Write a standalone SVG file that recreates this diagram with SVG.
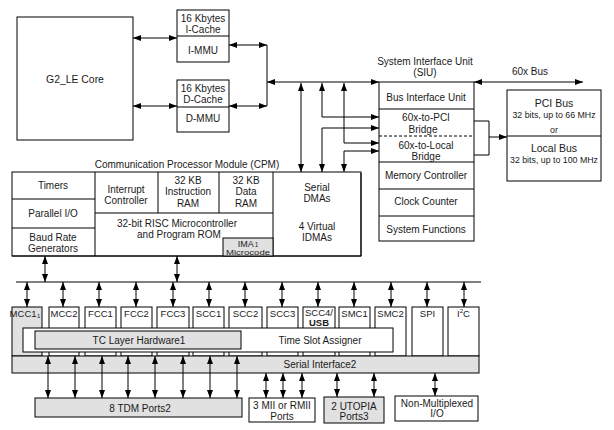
<svg xmlns="http://www.w3.org/2000/svg" width="614" height="430" viewBox="0 0 614 430">
<style>
.b{fill:#fff;stroke:#000;stroke-width:1}
.g{fill:#e1e1e1;stroke:#000;stroke-width:1}
.l{stroke:#000;stroke-width:1;fill:none}
.t{font-family:"Liberation Sans",Arial,sans-serif;font-size:10px;fill:#1a1a1a;text-anchor:middle}
.ch{font-size:9.5px}
.s{font-size:8.8px}
.big{font-size:10.5px}
#conn line,#conn polyline{stroke:#000;stroke-width:1;fill:none}
.a{marker-start:url(#ah);marker-end:url(#ah)}
.e{marker-end:url(#ah)}
</style>
<defs>
<marker id="ah" markerUnits="userSpaceOnUse" markerWidth="8" markerHeight="6" refX="8" refY="3" orient="auto-start-reverse"><path d="M0,0 L8,3 L0,6 z" fill="#000"/></marker>
</defs>
<rect width="614" height="430" fill="#fff"/>

<g id="core">
<rect class="b" x="17" y="17" width="116" height="123"/>
<text class="t" x="75" y="83" style="font-size:10.4px">G2_LE Core</text>
</g>

<g id="icache">
<rect class="b" x="177" y="10" width="52" height="52"/>
<line class="l" x1="177" y1="36" x2="229" y2="36"/>
<text class="t" x="203" y="22">16 Kbytes</text>
<text class="t" x="203" y="33">I-Cache</text>
<text class="t" x="203" y="53.5">I-MMU</text>
</g>

<g id="dcache">
<rect class="b" x="177" y="80" width="52" height="52"/>
<line class="l" x1="177" y1="107" x2="229" y2="107"/>
<text class="t" x="203" y="91.5">16 Kbytes</text>
<text class="t" x="203" y="102.5">D-Cache</text>
<text class="t" x="203" y="122">D-MMU</text>
</g>

<g id="siu">
<text class="t" x="425" y="65">System Interface Unit</text>
<text class="t" x="425" y="75.5">(SIU)</text>
<rect class="b" x="379" y="82" width="95" height="159"/>
<line class="l" x1="379" y1="109" x2="474" y2="109"/>
<line class="l" x1="379" y1="136" x2="474" y2="136" stroke-dasharray="3,2"/>
<line class="l" x1="379" y1="162" x2="474" y2="162" stroke-width="2"/>
<line class="l" x1="379" y1="189" x2="474" y2="189"/>
<line class="l" x1="379" y1="216" x2="474" y2="216"/>
<text class="t" x="426" y="100.5">Bus Interface Unit</text>
<text class="t" x="426" y="121">60x-to-PCI</text>
<text class="t" x="423" y="133">Bridge</text>
<text class="t" x="426" y="148.5">60x-to-Local</text>
<text class="t" x="426" y="159.5">Bridge</text>
<text class="t" x="426" y="179">Memory Controller</text>
<text class="t" x="426" y="205">Clock Counter</text>
<text class="t" x="426" y="232.5">System Functions</text>
</g>

<g id="bus60x">
<text class="t" x="530" y="74.5">60x Bus</text>
</g>

<g id="pcibus">
<rect class="b" x="507" y="90" width="94" height="91"/>
<line class="l" x1="507" y1="136" x2="601" y2="136"/>
<text class="t big" x="554" y="107">PCI Bus</text>
<text class="t s" x="554" y="117.5">32 bits, up to 66 MHz</text>
<text class="t s" x="554" y="133">or</text>
<text class="t big" x="554" y="152">Local Bus</text>
<text class="t s" x="554" y="162.5">32 bits, up to 100 MHz</text>
</g>

<g id="cpm">
<text class="t" x="187" y="167.5">Communication Processor Module (CPM)</text>
<rect class="b" x="12" y="172" width="349" height="84"/>
<polyline class="l" points="361,173 361,256 12,256" stroke-width="2.5"/>
<line class="l" x1="95" y1="172" x2="95" y2="256"/>
<line class="l" x1="12" y1="199" x2="95" y2="199"/>
<line class="l" x1="12" y1="228" x2="95" y2="228"/>
<line class="l" x1="95" y1="213" x2="273" y2="213"/>
<line class="l" x1="158" y1="172" x2="158" y2="213"/>
<line class="l" x1="219" y1="172" x2="219" y2="213"/>
<line class="l" x1="273" y1="172" x2="273" y2="256"/>
<text class="t" x="53" y="188.5">Timers</text>
<text class="t" x="53" y="216.5">Parallel I/O</text>
<text class="t" x="53" y="240.5">Baud Rate</text>
<text class="t" x="53" y="251.5">Generators</text>
<text class="t" x="126" y="192.5">Interrupt</text>
<text class="t" x="126" y="203.5">Controller</text>
<text class="t" x="188" y="183.5">32 KB</text>
<text class="t" x="188" y="195">Instruction</text>
<text class="t" x="188" y="206.5">RAM</text>
<text class="t" x="246" y="183.5">32 KB</text>
<text class="t" x="246" y="195">Data</text>
<text class="t" x="246" y="206.5">RAM</text>
<text class="t" x="177" y="226.5">32-bit RISC Microcontroller</text>
<text class="t" x="179" y="238">and Program ROM</text>
<rect class="g" x="223" y="238" width="50" height="18"/>
<text class="t" x="248" y="247" style="font-size:9px">IMA<tspan font-size="6.5" dx="1">1</tspan></text>
<text class="t" x="248" y="254.5" style="font-size:8px" textLength="44" lengthAdjust="spacingAndGlyphs">Microcode</text>
<text class="t" x="317" y="190.5">Serial</text>
<text class="t" x="317" y="201.5">DMAs</text>
<text class="t" x="317" y="229.5">4 Virtual</text>
<text class="t" x="317" y="240.5">IDMAs</text>
</g>

<g id="mcc1"><rect class="g" x="12" y="307" width="30" height="49"/><text class="t ch" x="25" y="316.5">MCC1<tspan font-size="6" dx="0.5" dy="1">1</tspan></text></g>
<g id="mcc2"><rect class="b" x="49" y="307" width="30" height="49"/><text class="t ch" x="64" y="316.5">MCC2</text></g>
<g id="fcc1"><rect class="b" x="85" y="307" width="31" height="49"/><text class="t ch" x="100.5" y="316.5">FCC1</text></g>
<g id="fcc2"><rect class="b" x="121" y="307" width="31" height="49"/><text class="t ch" x="136.5" y="316.5">FCC2</text></g>
<g id="fcc3"><rect class="b" x="157" y="307" width="32" height="49"/><text class="t ch" x="173" y="316.5">FCC3</text></g>
<g id="scc1"><rect class="b" x="193" y="307" width="31" height="49"/><text class="t ch" x="208.5" y="316.5">SCC1</text></g>
<g id="scc2"><rect class="b" x="229" y="307" width="33" height="49"/><text class="t ch" x="245.5" y="316.5">SCC2</text></g>
<g id="scc3"><rect class="b" x="267" y="307" width="31" height="49"/><text class="t ch" x="282.5" y="316.5">SCC3</text></g>
<g id="scc4"><rect class="b" x="303" y="307" width="32" height="49"/><text class="t ch" x="319" y="316">SCC4/</text><text class="t ch" x="319" y="325.5" font-weight="bold">USB</text></g>
<g id="smc1"><rect class="b" x="339" y="307" width="31" height="49"/><text class="t ch" x="354.5" y="316.5">SMC1</text></g>
<g id="smc2"><rect class="b" x="375" y="307" width="31" height="49"/><text class="t ch" x="390.5" y="316.5">SMC2</text></g>
<g id="spi"><rect class="b" x="412" y="307" width="31" height="49"/><text class="t ch" x="427.5" y="316.5">SPI</text></g>
<g id="i2c"><rect class="b" x="448" y="307" width="31" height="49"/><text class="t ch" x="463.5" y="316.5">I<tspan font-size="6" dy="-3.5">2</tspan><tspan dy="3.5">C</tspan></text></g>

<g id="si">
<rect class="g" x="12" y="356" width="467" height="17"/>
<text class="t" x="320" y="368">Serial Interface2</text>
</g>
<g id="tsa">
<rect class="b" x="23" y="328" width="370" height="24"/>
<text class="t" x="320" y="343.5">Time Slot Assigner</text>
</g>
<g id="tc">
<rect class="g" x="35" y="331" width="206" height="18"/>
<text class="t" x="139" y="343.5">TC Layer Hardware1</text>
</g>

<g id="tdm">
<rect class="g" x="35" y="398" width="207" height="19"/>
<text class="t" x="140" y="411.5">8 TDM Ports2</text>
</g>
<g id="mii">
<rect class="b" x="249" y="398" width="66" height="24"/>
<text class="t" x="282" y="408.5">3 MII or RMII</text>
<text class="t" x="282" y="419.5">Ports</text>
</g>
<g id="utopia">
<rect class="g" x="324" y="397" width="60" height="26"/>
<text class="t" x="354" y="409.5">2 UTOPIA</text>
<text class="t" x="354" y="420">Ports3</text>
</g>
<g id="nonmux">
<rect class="b" x="395" y="396" width="83" height="25"/>
<text class="t" x="437" y="406.5">Non-Multiplexed</text>
<text class="t" x="437" y="416.5">I/O</text>
</g>

<g id="conn">
<line class="a" x1="133" y1="38" x2="177" y2="38"/>
<line class="a" x1="133" y1="106" x2="177" y2="106"/>
<line class="a" x1="229" y1="45" x2="267" y2="45"/>
<line class="a" x1="229" y1="106" x2="267" y2="106"/>
<line x1="267" y1="45" x2="267" y2="106"/>
<line class="a" x1="267" y1="82" x2="379" y2="82"/>
<line class="a" x1="301" y1="83" x2="301" y2="172"/>
<polyline class="a" points="322,83 322,117 379,117"/>
<polyline class="a" points="379,128 322,128 322,172"/>
<polyline class="a" points="344,83 344,143 379,143"/>
<polyline class="a" points="379,151 344,151 344,172"/>
<line class="a" x1="474" y1="82" x2="583" y2="82"/>
<polyline points="474,121 489,121 489,155 474,155"/>
<line class="e" x1="489" y1="137" x2="507" y2="137"/>
<line class="a" x1="45" y1="256" x2="45" y2="282"/>
<line class="a" x1="177" y1="256" x2="177" y2="282"/>
<line x1="16" y1="282" x2="481" y2="282"/>
<line class="a" x1="27" y1="282" x2="27" y2="307"/>
<line class="a" x1="63" y1="282" x2="63" y2="307"/>
<line class="a" x1="99" y1="282" x2="99" y2="307"/>
<line class="a" x1="136" y1="282" x2="136" y2="307"/>
<line class="a" x1="173" y1="282" x2="173" y2="307"/>
<line class="a" x1="209" y1="282" x2="209" y2="307"/>
<line class="a" x1="245" y1="282" x2="245" y2="307"/>
<line class="a" x1="282" y1="282" x2="282" y2="307"/>
<line class="a" x1="318" y1="282" x2="318" y2="307"/>
<line class="a" x1="354" y1="282" x2="354" y2="307"/>
<line class="a" x1="391" y1="282" x2="391" y2="307"/>
<line class="a" x1="427" y1="282" x2="427" y2="307"/>
<line class="a" x1="464" y1="282" x2="464" y2="307"/>
<line class="a" x1="48" y1="356" x2="48" y2="398"/>
<line class="a" x1="75" y1="356" x2="75" y2="398"/>
<line class="a" x1="102" y1="356" x2="102" y2="398"/>
<line class="a" x1="128" y1="356" x2="128" y2="398"/>
<line class="a" x1="155" y1="356" x2="155" y2="398"/>
<line class="a" x1="183" y1="356" x2="183" y2="398"/>
<line class="a" x1="210" y1="356" x2="210" y2="398"/>
<line class="a" x1="237" y1="356" x2="237" y2="398"/>
<line class="a" x1="266" y1="373" x2="266" y2="398"/>
<line class="a" x1="283" y1="373" x2="283" y2="398"/>
<line class="a" x1="302" y1="373" x2="302" y2="398"/>
<line class="a" x1="337" y1="373" x2="337" y2="397"/>
<line class="a" x1="374" y1="373" x2="374" y2="397"/>
<line class="a" x1="435" y1="373" x2="435" y2="396"/>
</g>
</svg>
